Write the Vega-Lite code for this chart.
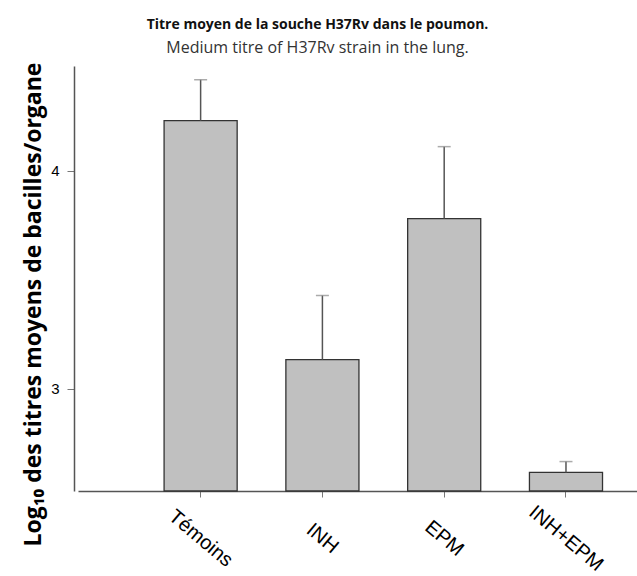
{
  "$schema": "https://vega.github.io/schema/vega-lite/v6.json",
  "width": 559,
  "height": 425,
  "autosize": {"type": "none"},
  "padding": {"left": 78, "top": 66, "right": 0, "bottom": 85},
  "background": "white",
  "title": {
    "text": "Titre moyen de la souche H37Rv dans le poumon.",
    "subtitle": "Medium titre of H37Rv strain in the lung.",
    "font": "Open Sans",
    "fontSize": 14,
    "fontWeight": "bold",
    "color": "#111",
    "subtitleFont": "Open Sans",
    "subtitleFontSize": 16,
    "subtitleColor": "#333",
    "subtitlePadding": 8,
    "anchor": "middle",
    "frame": "group",
    "dx": -40,
    "offset": 6
  },
  "data": {
    "values": [
      {"groupe": "Témoins", "moyenne": 4.229, "haut": 4.417},
      {"groupe": "INH", "moyenne": 3.133, "haut": 3.427},
      {"groupe": "EPM", "moyenne": 3.780, "haut": 4.110},
      {"groupe": "INH+EPM", "moyenne": 2.615, "haut": 2.665}
    ]
  },
  "encoding": {
    "x": {
      "field": "groupe",
      "type": "nominal",
      "sort": null,
      "scale": {"paddingInner": 0.4, "paddingOuter": 0.495, "align": 0.714},
      "axis": {
        "title": null,
        "labelAngle": 40,
        "labelAlign": "center",
        "labelBaseline": "middle",
        "labelFont": "Liberation Sans",
        "labelFontSize": 20,
        "labelColor": "#000",
        "labelPadding": 41,
        "tickSize": 6,
        "tickColor": "#777",
        "domainColor": "#555",
        "domainWidth": 1.5,
        "grid": false
      }
    }
  },
  "layer": [
    {
      "mark": {"type": "bar", "fill": "#c0c0c0", "stroke": "#333", "strokeWidth": 1.3},
      "encoding": {
        "y": {
          "field": "moyenne",
          "type": "quantitative",
          "scale": {"domain": [2.53, 4.48], "zero": false, "nice": false},
          "axis": {
            "title": "Log₁₀ des titres moyens de bacilles/organe",
            "titleFont": "Open Sans",
            "titleFontSize": 23,
            "titleFontWeight": "bold",
            "titleColor": "#000",
            "titlePadding": 5,
            "titleY": 238,
            "values": [3, 4],
            "format": "d",
            "labelFont": "Liberation Sans",
            "labelFontSize": 15,
            "labelColor": "#000",
            "labelPadding": 8,
            "tickSize": 7,
            "tickColor": "#777",
            "domainColor": "#555",
            "domainWidth": 1.5,
            "offset": 4,
            "grid": false
          }
        },
        "y2": {"datum": 2.53}
      }
    },
    {
      "mark": {"type": "rule", "color": "#555", "strokeWidth": 1.5},
      "encoding": {
        "y": {"field": "moyenne", "type": "quantitative"},
        "y2": {"field": "haut"}
      }
    },
    {
      "mark": {"type": "tick", "color": "#888", "size": 13, "thickness": 1.5},
      "encoding": {
        "y": {"field": "haut", "type": "quantitative"}
      }
    }
  ],
  "config": {"view": {"stroke": null}}
}
